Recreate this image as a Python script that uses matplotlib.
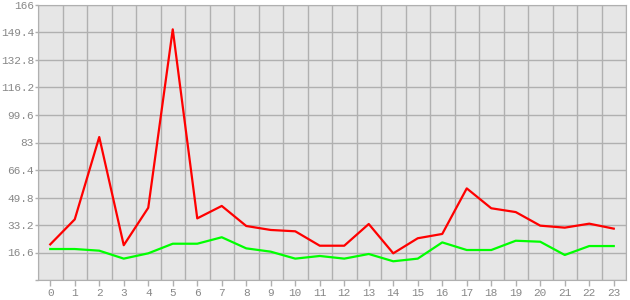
import numpy as np
import matplotlib.pyplot as plt

hours = list(range(24))
red_vals = [21.5, 36.6, 86.3, 21.0, 43.6, 151.3, 37.2, 44.7, 32.6, 30.2, 29.4, 20.7,
            20.7, 33.8, 16.1, 25.2, 27.8, 55.3, 43.3, 41.0, 32.8, 31.6, 34.0, 31.0]
green_vals = [18.7, 18.7, 17.7, 12.9, 16.1, 21.9, 21.9, 25.8, 19.1, 17.1, 12.9, 14.5,
              12.9, 15.7, 11.3, 12.9, 22.7, 18.1, 18.1, 23.7, 23.1, 15.1, 20.5, 20.5]
y_ticks = [0, 16.6, 33.2, 49.8, 66.4, 83, 99.6, 116.2, 132.8, 149.4, 166]
y_labels = ["", "16.6", "33.2", "49.8", "66.4", "83", "99.6", "116.2", "132.8", "149.4", "166"]

plt.rcParams['font.family'] = ['Liberation Mono', 'DejaVu Sans Mono']
gray = '#b0b0b0'
txt = '#888888'

fig = plt.figure(figsize=(6.3, 3.0), dpi=100)
ax = fig.add_axes([38/630, 20/300, 588/630, 275/300])
ax.set_facecolor('#e6e6e6')

ax.plot(hours, red_vals, color='#ff0000', lw=1.6)
ax.plot(hours, green_vals, color='#00ff00', lw=1.6)

ax.set_xlim(-0.5, 23.5)
ax.set_ylim(0, 166)
ax.set_xticks(hours)
ax.set_xticks(np.arange(-0.5, 24, 1), minor=True)
ax.set_yticks(y_ticks)
ax.set_yticklabels(y_labels)
ax.grid(True, which='minor', axis='x', color=gray, lw=1)
ax.grid(True, which='major', axis='y', color=gray, lw=1)
ax.set_axisbelow(True)
ax.tick_params(axis='x', which='minor', length=0)
ax.tick_params(axis='both', which='major', colors=gray, labelcolor=txt,
               labelsize=8, width=1)
ax.tick_params(axis='x', which='major', length=4, pad=1.5)
ax.tick_params(axis='y', which='major', length=2.5, pad=0.5)
for s in ax.spines.values():
    s.set_color(gray)

fig.savefig('out.png', dpi=100)
